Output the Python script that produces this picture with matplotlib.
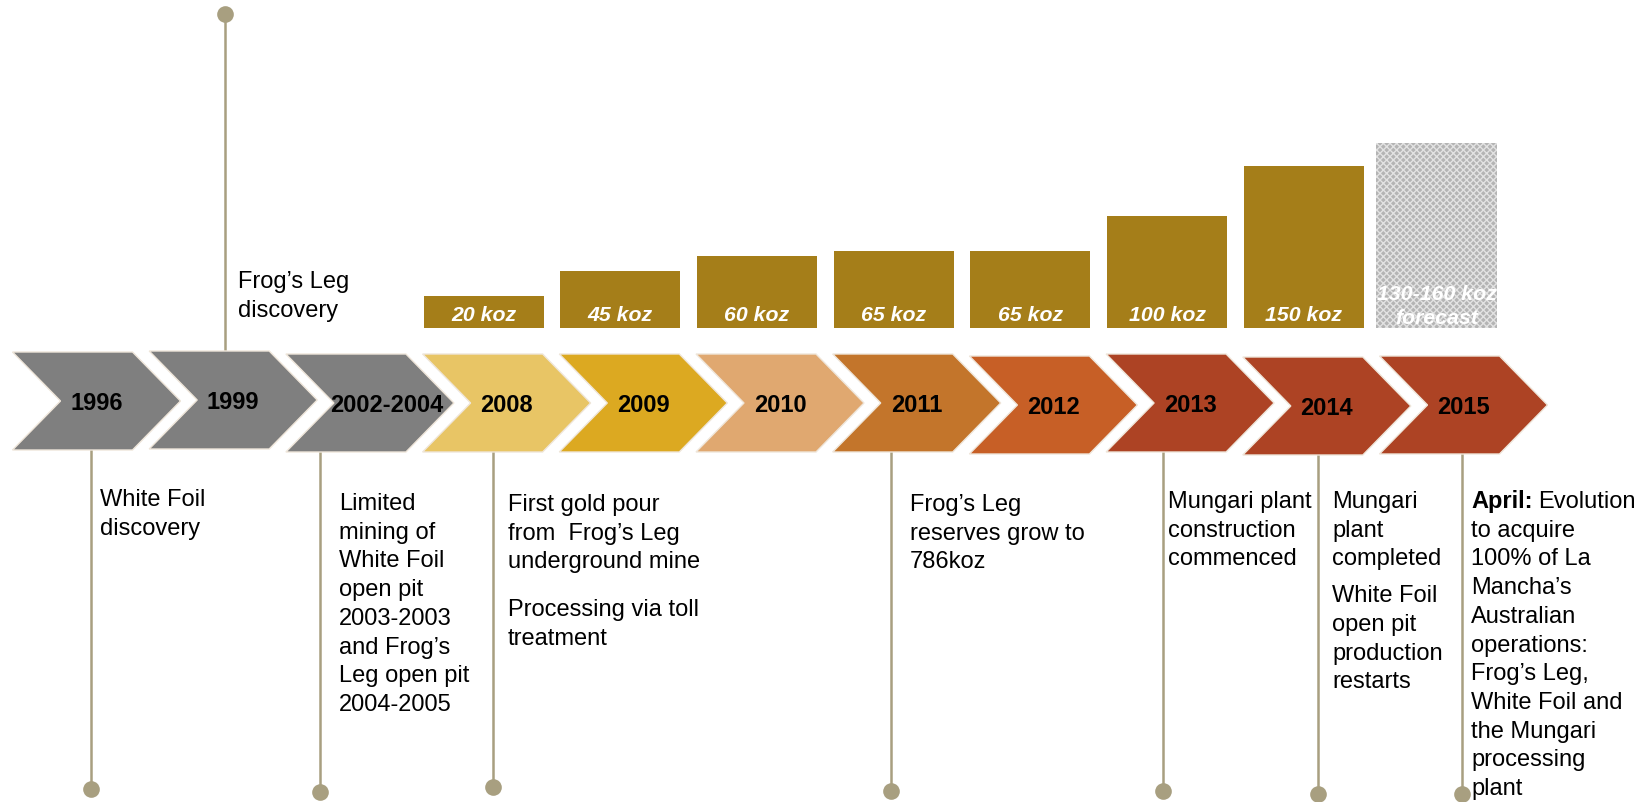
import numpy as np
import matplotlib.pyplot as plt
from matplotlib.patches import Polygon

plt.rcParams['font.family'] = ['Liberation Sans', 'DejaVu Sans']
plt.rcParams['hatch.linewidth'] = 1.0

# ---- data ----
years = ['1996', '1999', '2002-2004', '2008', '2009', '2010',
         '2011', '2012', '2013', '2014', '2015']
year_colors = ['#7f7f7f', '#7f7f7f', '#7f7f7f', '#e8c565', '#dca921', '#e0a870',
               '#c3752b', '#c75f26', '#ad4324', '#ad4324', '#ad4324']

prod_years = ['2008', '2009', '2010', '2011', '2012', '2013', '2014']
prod_koz = [20, 45, 60, 65, 65, 100, 150]
forecast_year = '2015'
forecast_height = 173          # drawn taller than the 150 koz bar
forecast_text = ['130-160 koz', 'forecast']

event_years = ['1996', '1999', '2002-2004', '2008', '2011', '2013', '2014', '2015']
event_text = [
    [['White Foil', 'discovery']],
    [['Frog\u2019s Leg', 'discovery']],
    [['Limited', 'mining of', 'White Foil', 'open pit', '2003-2003',
      'and Frog\u2019s', 'Leg open pit', '2004-2005']],
    [['First gold pour', 'from  Frog\u2019s Leg', 'underground mine'],
     ['Processing via toll', 'treatment']],
    [['Frog\u2019s Leg', 'reserves grow to', '786koz']],
    [['Mungari plant', 'construction', 'commenced']],
    [['Mungari', 'plant', 'completed'],
     ['White Foil', 'open pit', 'production', 'restarts']],
    [['April: Evolution', 'to acquire', '100% of La', 'Mancha\u2019s', 'Australian',
      'operations:', 'Frog\u2019s Leg,', 'White Foil and', 'the Mungari',
      'processing', 'plant']],
]

# ---- layout (pixels of the 1646x803 canvas) ----
W, H = 1646, 803
bar_col = '#a57e19'
line_col = '#a89f80'
chev_left = 12.5 + 136.7 * np.arange(len(years))
chev_top = [353, 352, 355, 355, 355, 355, 355, 357, 355, 358, 357]
chev_h, chev_w, chev_tip = 98, 120, 48

line_x = [91, 225, 320, 493, 891, 1163.5, 1318, 1462]
dot_y = [790, 15, 793, 788, 792, 792, 795, 795]
text_x = [100, 238, 339, 508, 910, 1168, 1332, 1471]
text_y = [498, 280, 502, 503, 503, 500, 500, 500]
para_gap = [0, 0, 0, 19, 0, 0, 8, 0]
line_step = 28.7

fig = plt.figure(figsize=(W / 100, H / 100), dpi=100)
ax = fig.add_axes([0, 0, 1, 1])
ax.set_xlim(0, W)
ax.set_ylim(H, 0)
ax.axis('off')

# connector lines with dots (start at the chevron edge facing the dot)
for yr, lx, dy in zip(event_years, line_x, dot_y):
    i = years.index(yr)
    y0 = chev_top[i] if dy < chev_top[i] else chev_top[i] + chev_h
    ax.plot([lx, lx], [y0, dy], color=line_col, lw=1.8, zorder=1)
    ax.plot(lx, dy, 'o', color=line_col, ms=12, mec='none', zorder=2)

# chevrons
for i, (yr, col) in enumerate(zip(years, year_colors)):
    L, T = chev_left[i], chev_top[i]
    B, M = T + chev_h, T + chev_h / 2
    pts = [(L, T), (L + chev_w, T), (L + chev_w + chev_tip, M),
           (L + chev_w, B), (L, B), (L + chev_tip, M)]
    ax.add_patch(Polygon(pts, closed=True, facecolor=col, edgecolor='#efe6da',
                         lw=1, zorder=3))
    lx = L + 84 + (17 if yr == '2002-2004' else 0)
    ax.text(lx, M + 8.5, yr, ha='center', va='baseline', fontsize=17,
            fontweight='bold', color='black', zorder=4)

# event texts
renderer = fig.canvas.get_renderer()
for k, paras in enumerate(event_text):
    y = text_y[k]
    for p, lines in enumerate(paras):
        if p > 0:
            y += para_gap[k]
        for ln in lines:
            if ln.startswith('April:'):
                t = ax.text(text_x[k], y + 8, 'April:', fontsize=17, fontweight='bold',
                            va='baseline', ha='left')
                bb = t.get_window_extent(renderer)
                ax.text(bb.x1 + 6, y + 8, ln[len('April: '):], fontsize=17,
                        va='baseline', ha='left')
            else:
                ax.text(text_x[k], y + 8, ln, fontsize=17, va='baseline', ha='left')
            y += line_step

# production bars: 1 px per koz, baseline 12 px below zero
bax = fig.add_axes([0, (H - 329) / H, 1, 200 / H])
bax.set_xlim(0, W)
bax.set_ylim(-12, 188)
bax.axis('off')
bar_x = [chev_left[years.index(y)] + chev_w / 2 + 1 for y in prod_years]
vals = np.array(prod_koz)
bax.bar(bar_x, vals + 12, bottom=-12, width=120, color=bar_col)
for x, v in zip(bar_x, prod_koz):
    bax.text(x, -3.6, f'{v} koz', ha='center', va='baseline', color='white',
             fontsize=15.3, fontweight='bold', fontstyle='italic')

fx = chev_left[years.index(forecast_year)] + chev_w / 2 - 3
bax.bar([fx], [forecast_height + 12], bottom=-12, width=121, facecolor='#b4b4b4',
        edgecolor='#e2e2e2', lw=0, hatch='xxxxx')
bax.text(fx, 17.4, forecast_text[0], ha='center', va='baseline', color='white',
         fontsize=15.3, fontweight='bold', fontstyle='italic')
bax.text(fx, -7, forecast_text[1], ha='center', va='baseline', color='white',
         fontsize=15.3, fontweight='bold', fontstyle='italic')

fig.savefig('out.png', dpi=100)
